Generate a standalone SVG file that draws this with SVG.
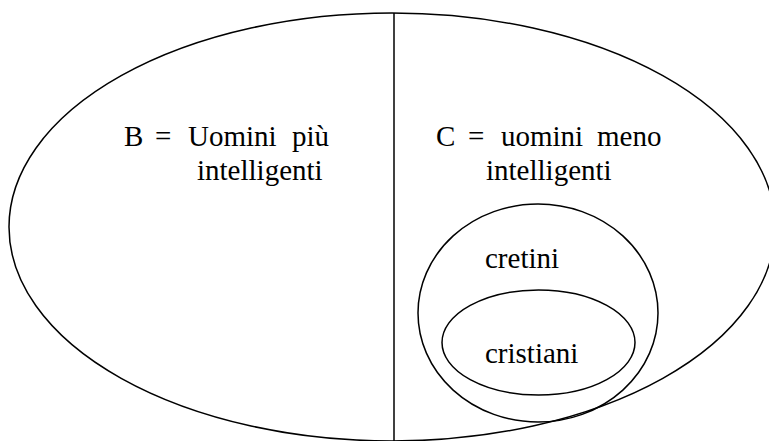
<svg xmlns="http://www.w3.org/2000/svg" width="769" height="441" viewBox="0 0 769 441">
<style>
.s{fill:none;stroke:#000;stroke-width:1.5}
.t{font-family:"Liberation Serif","Times New Roman","Noto Serif","DejaVu Serif",serif;font-size:29px;fill:#000}
</style>
<rect width="769" height="441" fill="#fff"/>
<g id="universe">
<ellipse class="s" cx="392" cy="227" rx="383" ry="214"/>
</g>
<g id="connectors">
<line class="s" x1="394" y1="13" x2="394" y2="441"/>
</g>
<g id="B">
<text class="t" y="146"><tspan x="124">B</tspan><tspan x="155">=</tspan><tspan x="188">Uomini</tspan><tspan x="292">più</tspan></text>
<text class="t" x="197" y="180">intelligenti</text>
</g>
<g id="C">
<text class="t" y="146"><tspan x="436">C</tspan><tspan x="468">=</tspan><tspan x="501">uomini</tspan><tspan x="597">meno</tspan></text>
<text class="t" x="486" y="180">intelligenti</text>
</g>
<g id="cretini">
<ellipse class="s" cx="538" cy="313" rx="120" ry="109"/>
<text class="t" x="485" y="268">cretini</text>
</g>
<g id="cristiani">
<ellipse class="s" cx="538.5" cy="342.5" rx="96.5" ry="52.5"/>
<text class="t" x="485" y="363">cristiani</text>
</g>
</svg>
